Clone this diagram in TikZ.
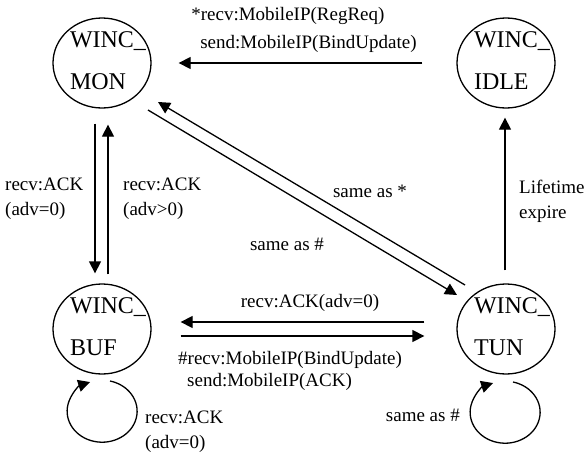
\documentclass[tikz,border=0pt]{standalone}
\usepackage{fontspec}
\setmainfont{Liberation Serif}
\usetikzlibrary{arrows.meta,shapes}
\tikzstyle{state}=[ellipse,draw,line width=1.3pt,minimum width=98pt,minimum height=90pt,inner sep=0pt]
\tikzstyle{statetxt}=[font=\fontsize{24}{42}\selectfont,align=left,inner sep=0pt,xshift=6pt,yshift=2pt]
\tikzstyle{lbl}=[font=\fontsize{19}{25}\selectfont,align=left,inner sep=0pt]
\tikzstyle{trans}=[draw,line width=1.3pt,-{Triangle[length=12pt,width=12pt]}]

\begin{document}
\begin{tikzpicture}[x=1pt,y=-1pt]
    \useasboundingbox (0,0) rectangle (584,455);
    % First the four states
    \foreach \pos/\name/\txt in {{(102,63)/mon/MON}, {(506,63)/idle/IDLE}, {(102,329)/buf/BUF}, {(506,329)/tun/TUN}}
    {
        \node[state] (\name) at \pos {};
        \node[statetxt] (\name-t) at (\name) {WINC\_\\\txt};
    }
    % Transitions
    \path[trans, shorten <=34pt, shorten >=27pt] (idle) -- (mon);
    \path[trans, shorten <=15pt, shorten >=10pt] ([xshift=-7pt]mon.south) -- ([xshift=-7pt]buf.north);
    \path[trans, shorten <=9pt, shorten >=16pt] ([xshift=6pt]buf.north) -- ([xshift=6pt]mon.south);
    \path[trans, shorten <=13pt, shorten >=9pt] ([xshift=-1pt]tun.north) -- ([xshift=-1pt]idle.south);
    \path[trans, shorten <=32pt, shorten >=29pt] ([yshift=7pt]tun.west) -- ([yshift=7pt]buf.east);
    \path[trans, shorten <=29pt, shorten >=32pt] ([yshift=-7pt]buf.east) -- ([yshift=-7pt]tun.west);
    \path[trans] ([shift={(-41,-44)}]tun.center) -- ([shift={(56,39)}]mon.center);
    \path[trans] ([shift={(46,47)}]mon.center) -- ([shift={(-49,-34)}]tun.center);
    % Self loops
    \path[trans] ([shift={(8,52)}]buf.center) arc[start angle=-77, end angle=250, x radius=35, y radius=31];
    \path[trans] ([shift={(7,53)}]tun.center) arc[start angle=-77, end angle=250, x radius=35, y radius=31];
    % Labels
    \node[lbl] (l-reg) at (304,30) {*recv:MobileIP(RegReq)\\[3pt]\hspace*{9pt}send:MobileIP(BindUpdate)};
    \node[lbl, anchor=west] (l-down) at (5,199) {recv:ACK\\(adv=0)};
    \node[lbl, anchor=west] (l-up) at (123,199) {recv:ACK\\(adv>0)};
    \node[lbl] (l-star) at (370,191) {same as *};
    \node[lbl] (l-hash) at (287,244) {same as \#};
    \node[lbl, anchor=west] (l-life) at (519,201) {Lifetime\\expire};
    \node[lbl] (l-ack) at (310,303) {recv:ACK(adv=0)};
    \node[lbl, anchor=west] (l-bind) at (178,371) {\#recv:MobileIP(BindUpdate)\\[-3pt]\hspace*{9pt}send:MobileIP(ACK)};
    \node[lbl, anchor=west] (l-loop) at (145,432) {recv:ACK\\(adv=0)};
    \node[lbl, anchor=east] (l-same) at (460,415) {same as \#};
\end{tikzpicture}
\end{document}
